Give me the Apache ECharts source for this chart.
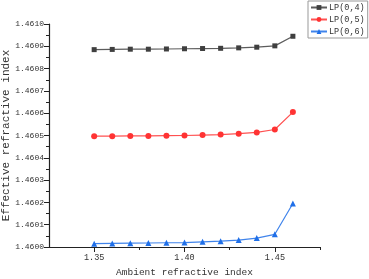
<!DOCTYPE html>
<html>
<head>
<meta charset="utf-8">
<script src="https://cdn.jsdelivr.net/npm/echarts@6/dist/echarts.min.js"></script>
<style>
  html, body { margin: 0; padding: 0; background: #fff; }
  #chart { width: 369px; height: 279px; }
</style>
</head>
<body>
<div id="chart"></div>
<script>
const ambientIndex = [1.35, 1.36, 1.37, 1.38, 1.39, 1.40, 1.41, 1.42, 1.43, 1.44, 1.45, 1.46]
const lp04 = [1.460885, 1.460886, 1.460887, 1.460887, 1.460888, 1.460889, 1.460890, 1.460891, 1.460893, 1.460896, 1.460902, 1.460945]
const lp05 = [1.460497, 1.460497, 1.460498, 1.460498, 1.460499, 1.460500, 1.460502, 1.460504, 1.460508, 1.460514, 1.460527, 1.460605]
const lp06 = [1.460015, 1.460016, 1.460017, 1.460018, 1.460019, 1.460020, 1.460023, 1.460026, 1.460031, 1.460040, 1.460057, 1.460195]
const xMajorTicks = [1.35, 1.40, 1.45]
const xMinorTicks = [1.375, 1.425, 1.475]

const monoFont = '"Liberation Mono", "DejaVu Sans Mono", monospace'
const axisColor = '#222'

const chart = echarts.init(document.getElementById('chart'))

const pairs = (ys) => ambientIndex.map((x, i) => [x, ys[i]])

const makeSeries = (name, ys, color, symbol, size) => ({
  name: name,
  type: 'line',
  data: pairs(ys),
  symbol: symbol,
  symbolSize: size,
  showSymbol: true,
  lineStyle: { width: 1.2, color: color, opacity: 0.85 },
  itemStyle: { color: color },
  z: 3
})

const series = [
  makeSeries('LP(0,4)', lp04, '#3f3f3f', 'rect', 5),
  makeSeries('LP(0,5)', lp05, '#ff3333', 'circle', 6),
  makeSeries('LP(0,6)', lp06, '#1f6fe8', 'triangle', 6)
]

const option = {
  animation: false,
  backgroundColor: '#fff',
  grid: { left: 49, right: 49, top: 24, bottom: 32, containLabel: false, outerBoundsMode: 'none' },
  legend: {
    orient: 'vertical',
    left: 308,
    top: 1,
    padding: [2, 3, 2, 2],
    itemWidth: 16,
    itemHeight: 6,
    itemGap: 3,
    borderColor: '#999',
    borderWidth: 1,
    textStyle: { fontFamily: monoFont, fontSize: 8.5, color: '#333', padding: [0, 0, 0, -3] },
    data: series.map(s => s.name)
  },
  xAxis: [{
    type: 'value',
    min: 1.325,
    max: 1.475,
    name: 'Ambient refractive index',
    nameLocation: 'middle',
    nameGap: 20,
    nameMoveOverlap: false,
    nameTextStyle: { fontFamily: monoFont, fontSize: 9.5, color: '#333' },
    splitLine: { show: false },
    axisLine: { show: true, onZero: false, lineStyle: { color: axisColor, width: 1.2 } },
    axisTick: { show: true, customValues: xMajorTicks, length: 5, lineStyle: { color: axisColor } },
    axisLabel: {
      customValues: xMajorTicks,
      fontFamily: monoFont,
      fontSize: 8.5,
      color: '#333',
      margin: 6,
      formatter: v => v.toFixed(2)
    }
  }, {
    type: 'value',
    min: 1.325,
    max: 1.475,
    position: 'bottom',
    splitLine: { show: false },
    axisLine: { show: false },
    axisTick: { show: true, customValues: xMinorTicks, length: 3, lineStyle: { color: axisColor } },
    axisLabel: { show: false }
  }],
  yAxis: {
    type: 'value',
    min: 1.4600,
    max: 1.4610,
    interval: 0.0001,
    name: 'Effective refractive index',
    nameLocation: 'middle',
    nameGap: 37,
    nameMoveOverlap: false,
    nameTextStyle: { fontFamily: monoFont, fontSize: 11, color: '#333' },
    splitLine: { show: false },
    axisLine: { show: true, lineStyle: { color: axisColor, width: 1.2 } },
    axisTick: { show: true, length: 5, lineStyle: { color: axisColor } },
    minorTick: { show: true, splitNumber: 2, length: 3, lineStyle: { color: axisColor } },
    axisLabel: {
      fontFamily: monoFont,
      fontSize: 8,
      color: '#333',
      margin: 5,
      formatter: v => v.toFixed(4)
    }
  },
  series: series
}

chart.setOption(option)
</script>
</body>
</html>
